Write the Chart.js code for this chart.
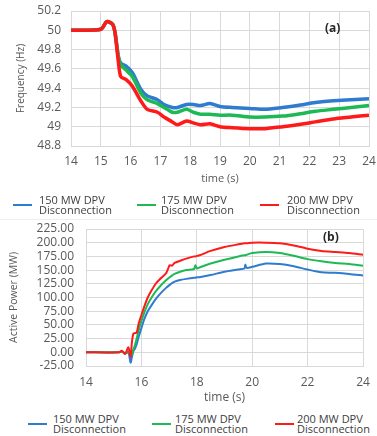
<!DOCTYPE html>
<html>
<head>
<meta charset="utf-8">
<script src="https://cdn.jsdelivr.net/npm/chart.js@4/dist/chart.umd.min.js"></script>
<style>
  html, body { margin: 0; padding: 0; background: #fff; }
  body { width: 377px; height: 436px; position: relative; overflow: hidden; font-family: "Open Sans", "Liberation Sans", sans-serif; color: #404040; }
  canvas { position: absolute; left: 0; }
  #chartA { top: 0; }
  #chartB { top: 221px; }
  .sep { position: absolute; left: 0; width: 377px; top: 219px; height: 0; border-top: 1px solid #eeeeee; }
  .legend { position: absolute; left: 0; width: 377px; height: 24px; }
  .item { position: absolute; top: 0; font-size: 11px; line-height: 10px; color: #404040; white-space: nowrap; }
  .swatch { position: absolute; width: 19px; height: 2px; top: 9px; left: 0; }
  .label { position: absolute; top: 0; }
  .tag { position: absolute; font-size: 12px; font-weight: bold; color: #262626; font-family: "Open Sans", sans-serif; }
</style>
</head>
<body>
<canvas id="chartA" width="377" height="190"></canvas>
<div class="sep"></div>
<canvas id="chartB" width="377" height="187"></canvas>
<div class="tag" style="left:325px; top:19px;">(a)</div>
<div class="tag" style="left:323px; top:228px;">(b)</div>
<div id="legendA" class="legend" style="top:195px;"></div>
<div id="legendB" class="legend" style="top:414px;"></div>
<script>
// ---------- Data ----------
const seriesNames = ['150 MW DPV\nDisconnection', '175 MW DPV\nDisconnection', '200 MW DPV\nDisconnection'];
const seriesColors = ['#2E7BCF', '#1DB954', '#FF1A1A'];

// (a) Frequency (Hz) vs time (s)
const freqTime = [14, 15.0, 15.2, 15.4, 15.48, 15.59, 15.67, 15.84, 16.06, 16.34, 16.56, 16.9, 17.12, 17.4, 17.57, 17.88, 18.1, 18.35, 18.66, 19.0, 19.4, 20.0, 20.5, 21.1, 21.6, 22.2, 22.8, 23.4, 24];
const freq150 = [50.0, 50.01, 50.09, 50.06, 49.97, 49.73, 49.66, 49.63, 49.56, 49.39, 49.32, 49.28, 49.23, 49.2, 49.2, 49.23, 49.23, 49.22, 49.24, 49.21, 49.2, 49.19, 49.18, 49.2, 49.22, 49.25, 49.27, 49.28, 49.29];
const freq175 = [50.0, 50.01, 50.09, 50.06, 49.97, 49.72, 49.64, 49.59, 49.52, 49.35, 49.28, 49.24, 49.2, 49.15, 49.15, 49.18, 49.15, 49.13, 49.13, 49.12, 49.12, 49.1, 49.1, 49.11, 49.13, 49.16, 49.18, 49.2, 49.22];
const freq200 = [50.0, 50.01, 50.09, 50.06, 49.97, 49.67, 49.52, 49.49, 49.42, 49.27, 49.18, 49.15, 49.1, 49.05, 49.02, 49.06, 49.04, 49.02, 49.03, 49.0, 48.99, 48.98, 48.98, 49.0, 49.02, 49.05, 49.08, 49.1, 49.12];
const freqTickLabels = ['48.8', '49', '49.2', '49.4', '49.6', '49.8', '50', '50.2'];
const freqTimeTickLabels = ['14', '15', '16', '17', '18', '19', '20', '21', '22', '23', '24'];

// (b) Active Power (MW) vs time (s)
const powerTime = [14, 15.2, 15.29, 15.41, 15.53, 15.61, 15.66, 15.71, 15.76, 15.83, 15.9, 16.0, 16.1, 16.23, 16.38, 16.53, 16.7, 16.9, 17.02, 17.1, 17.2, 17.4, 17.62, 17.9, 17.95, 18.0, 18.1, 18.5, 19.0, 19.5, 19.72, 19.75, 19.8, 20.0, 20.5, 21.0, 21.5, 22.0, 22.5, 23.0, 23.5, 24];
const power150 = [0, 0, 2, -2, 0, -19, -8, 2, 6, 15, 28, 44, 60, 75, 87, 98, 108, 118, 123, 126, 129, 132, 134, 136, 136, 137, 137, 141, 147, 151, 153, 160, 154, 156, 162, 161, 157, 151, 146, 145, 143, 140];
const power175 = [0, 0, 2, -2, 1, -4, -5, 5, 12, 25, 40, 57, 72, 88, 101, 112, 122, 132, 137, 140, 143, 147, 150, 152, 159, 153, 155, 162, 169, 175, 177, 177, 178, 181, 183, 181, 176, 170, 166, 163, 161, 158];
const power200 = [0, 0, 3, -3, 9, -8, 20, 34, 35, 36, 52, 68, 83, 100, 114, 126, 135, 145, 159, 158, 163, 167, 171, 175, 175, 176, 177, 185, 192, 197, 199, 199, 199, 200, 200, 199, 195, 189, 185, 183, 181, 178];
const powerTickLabels = ['-25.00', '0.00', '25.00', '50.00', '75.00', '100.00', '125.00', '150.00', '175.00', '200.00', '225.00'];
const powerTimeTickLabels = ['14', '16', '18', '20', '22', '24'];

// ---------- Helpers ----------
function pts(xs, ys) { return xs.map((x, i) => ({ x: x, y: ys[i] })); }
const gridColor = '#d9d9d9';
const tickColor = '#595959';
const FONT = '"Open Sans", "Liberation Sans", sans-serif';
const drawOrder = [2, 1, 0]; // red drawn on top, blue at the back

function makeDatasets(xs, arrs, width) {
  return arrs.map((a, i) => ({
    label: seriesNames[i],
    data: pts(xs, a),
    borderColor: seriesColors[i],
    backgroundColor: seriesColors[i],
    borderWidth: width,
    pointRadius: 0,
    tension: 0.25,
    fill: false,
    order: drawOrder[i]
  }));
}

function fixBox(size, key) {
  return s => {
    s[key] = size;
    s.paddingTop = 0; s.paddingBottom = 0; s.paddingLeft = 0; s.paddingRight = 0;
  };
}

function buildLegend(id, positions) {
  const el = document.getElementById(id);
  seriesNames.forEach((name, i) => {
    const item = document.createElement('div');
    item.className = 'item';
    item.style.left = positions[i][0] + 'px';
    const sw = document.createElement('div');
    sw.className = 'swatch';
    sw.style.background = seriesColors[i];
    const lab = document.createElement('div');
    lab.className = 'label';
    lab.style.left = positions[i][1] + 'px';
    lab.innerHTML = name.split('\n').join('<br>');
    item.appendChild(sw);
    item.appendChild(lab);
    el.appendChild(item);
  });
}

// ---------- Chart (a) ----------
new Chart(document.getElementById('chartA'), {
  type: 'line',
  data: { datasets: makeDatasets(freqTime, [freq150, freq175, freq200], 3.5) },
  options: {
    responsive: false,
    animation: false,
    devicePixelRatio: 1,
    layout: { padding: { left: 0, right: 8, top: 11, bottom: 0 } },
    plugins: { legend: { display: false }, tooltip: { enabled: false } },
    scales: {
      x: {
        type: 'linear', min: 14, max: 24,
        ticks: { stepSize: 1, autoSkip: false, maxRotation: 0, padding: 8, color: tickColor, font: { family: FONT, size: 12 },
                 callback: (v, i) => freqTimeTickLabels[i] },
        grid: { color: gridColor, drawTicks: false },
        border: { color: gridColor },
        title: { display: true, text: 'time (s)', color: tickColor, font: { family: FONT, size: 11 }, padding: { top: 0, bottom: 5 } },
        afterFit: fixBox(44, 'height')
      },
      y: {
        type: 'linear', min: 48.8, max: 50.2,
        ticks: { stepSize: 0.2, autoSkip: false, padding: 10, color: tickColor, font: { family: FONT, size: 12 },
                 callback: (v, i) => freqTickLabels[i] },
        grid: { color: gridColor, drawTicks: false },
        border: { color: gridColor },
        title: { display: true, text: 'Frequency (Hz)', color: tickColor, font: { family: FONT, size: 10 }, padding: { top: 15, bottom: 0 } },
        afterFit: fixBox(71, 'width')
      }
    }
  }
});

// ---------- Chart (b) ----------
new Chart(document.getElementById('chartB'), {
  type: 'line',
  data: { datasets: makeDatasets(powerTime, [power150, power175, power200], 2) },
  options: {
    responsive: false,
    animation: false,
    devicePixelRatio: 1,
    layout: { padding: { left: 0, right: 14, top: 8, bottom: 0 } },
    plugins: { legend: { display: false }, tooltip: { enabled: false } },
    scales: {
      x: {
        type: 'linear', min: 14, max: 24,
        ticks: { stepSize: 2, autoSkip: false, maxRotation: 0, padding: 9, color: tickColor, font: { family: FONT, size: 12 },
                 callback: (v, i) => powerTimeTickLabels[i] },
        grid: { color: gridColor, drawTicks: false },
        border: { color: gridColor },
        title: { display: true, text: 'time (s)', color: tickColor, font: { family: FONT, size: 12 }, padding: { top: 0, bottom: 3 } },
        afterFit: fixBox(42, 'height')
      },
      y: {
        type: 'linear', min: -25, max: 225,
        ticks: { stepSize: 25, autoSkip: false, padding: 12, color: tickColor, font: { family: FONT, size: 12 },
                 callback: (v, i) => powerTickLabels[i] },
        grid: { color: gridColor, drawTicks: false },
        border: { color: gridColor },
        title: { display: true, text: 'Active Power (MW)', color: tickColor, font: { family: FONT, size: 10.5 }, padding: { top: 8, bottom: 0 } },
        afterFit: fixBox(86, 'width')
      }
    }
  }
});

buildLegend('legendA', [[13, 26], [137, 24], [260, 27]]);
buildLegend('legendB', [[28, 25], [152, 23], [275, 22]]);
</script>
</body>
</html>
